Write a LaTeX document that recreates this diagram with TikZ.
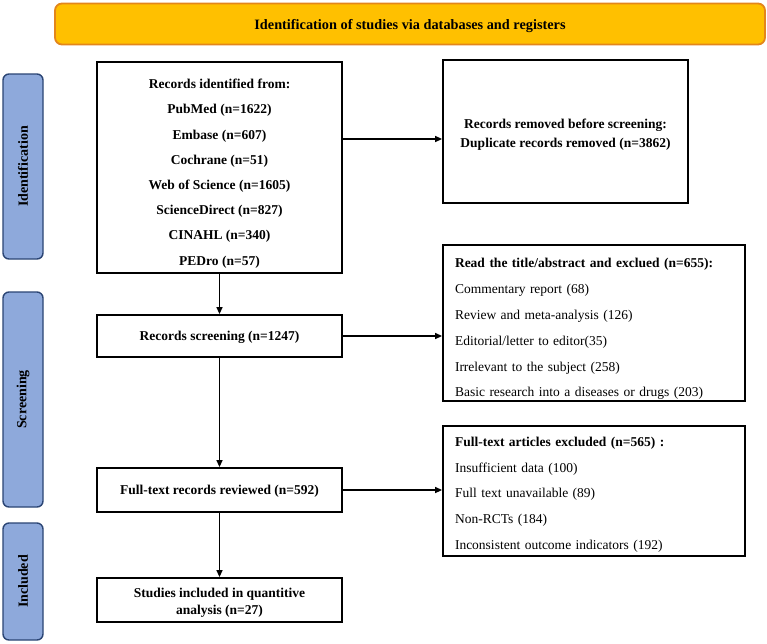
\documentclass[tikz,border=0pt]{standalone}
\usepackage{fontspec}
\setmainfont{Liberation Serif}
\usetikzlibrary{arrows.meta}
\definecolor{bannerfill}{HTML}{FFC000}
\definecolor{bannerdraw}{HTML}{E3861B}
\definecolor{phasefill}{HTML}{8EA9DB}
\definecolor{phasedraw}{HTML}{2B4574}
\newcommand{\lift}[1]{\rule{0pt}{#1}}
\begin{document}
\begin{tikzpicture}[x=1pt,y=-1pt,
  box/.style={draw=black, line width=1.8pt, inner sep=0pt, align=center, font=\bfseries\fontsize{13.5}{25.2}\selectfont},
  listbox/.style={draw=black, line width=1.8pt, inner xsep=12pt, inner ysep=0pt, text width=278pt, align=left, font=\fontsize{13.5}{25.8}\selectfont},
  phase/.style={draw=phasedraw, fill=phasefill, line width=1.4pt, rounded corners=6pt, rotate=90, minimum height=40pt, inner sep=0pt, font=\bfseries\fontsize{14}{16}\selectfont},
  arr/.style={line width=1.3pt, -{Triangle[length=7pt,width=6pt]}}]
\fill[white] (0,0) rectangle (767,643);
\useasboundingbox (0,0) rectangle (767,643);

\node[draw=bannerdraw, fill=bannerfill, line width=1.8pt, rounded corners=7pt, minimum width=710pt, minimum height=41pt, inner sep=0pt, font=\bfseries\fontsize{14.3}{16}\selectfont] (banner) at (410,24) {\lift{14pt}Identification of studies via databases and registers};

\node[phase, minimum width=185pt] (pid) at (23,166.5) {Identification};
\node[phase, minimum width=215pt] (psc) at (23,399.5) {Screening};
\node[phase, minimum width=117pt] (pin) at (23,581.5) {Included};

\node[box, minimum width=245pt, minimum height=211pt] (rec) at (219.5,167.5) {\lift{21.5pt}Records identified from:\\PubMed (n=1622)\\Embase (n=607)\\Cochrane (n=51)\\Web of Science (n=1605)\\ScienceDirect (n=827)\\CINAHL (n=340)\\PEDro (n=57)};

\node[box, font=\bfseries\fontsize{13.5}{19}\selectfont, minimum width=245pt, minimum height=143pt] (rem) at (565.5,131.5) {\lift{15.5pt}Records removed before screening:\\Duplicate records removed (n=3862)};

\node[box, minimum width=245pt, minimum height=42pt] (scr) at (219.5,336) {\lift{12pt}Records screening (n=1247)};
\node[box, minimum width=245pt, minimum height=44pt] (ft) at (219.5,490) {\lift{12pt}Full-text records reviewed (n=592)};
\node[box, font=\bfseries\fontsize{13.5}{17}\selectfont, minimum width=245pt, minimum height=44pt] (st) at (219.5,600) {\lift{14pt}Studies included in quantitive\\analysis (n=27)};

\node[listbox, minimum height=156pt] (read) at (594,323) {\lift{21.5pt}{\bfseries Read the title/abstract and exclued (n=655):}\\Commentary report (68)\\Review and meta-analysis (126)\\Editorial/letter to editor(35)\\Irrelevant to the subject (258)\\Basic research into a diseases or drugs (203)};

\node[listbox, minimum height=130pt] (fte) at (594,491) {\lift{16.5pt}{\bfseries Full-text articles excluded (n=565) :}\\Insufficient data (100)\\Full text unavailable (89)\\Non-RCTs (184)\\Inconsistent outcome indicators (192)};

\coordinate (a) at (0,139);
\draw[arr] (rec.east |- a) -- (rem.west |- a);
\draw[arr] (rec.south) -- (scr.north);
\draw[arr] (scr.south) -- (ft.north);
\draw[arr] (ft.south) -- (st.north);
\draw[arr] (scr.east) -- (scr.east -| read.west);
\draw[arr] (ft.east) -- (ft.east -| fte.west);
\end{tikzpicture}
\end{document}
